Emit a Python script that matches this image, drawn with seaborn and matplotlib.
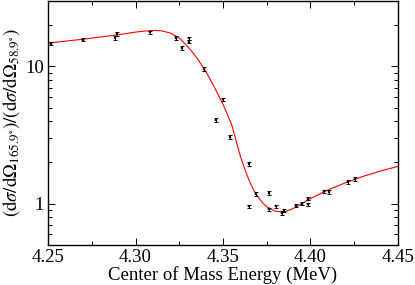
import numpy as np
import pandas as pd
import matplotlib
matplotlib.use("Agg")
import matplotlib.pyplot as plt
import seaborn as sns
from matplotlib.ticker import LogLocator, NullFormatter, FixedLocator, MultipleLocator

# Measured data points
energy = [4.2517, 4.2702, 4.2883, 4.2896, 4.3083, 4.3231, 4.3268, 4.3304, 4.3304,
          4.3390, 4.3458, 4.3502, 4.3540, 4.3650, 4.3650, 4.3689, 4.3765, 4.3765,
          4.3801, 4.3837, 4.3849, 4.3918, 4.3954, 4.3983, 4.3987, 4.4076, 4.4103,
          4.4216, 4.4253]
ratio = [14.7, 15.7, 16.1, 17.2, 17.7, 16.2, 13.6, 16.0, 15.2,
         9.56, 4.06, 5.76, 3.06, 1.95, 0.956, 1.18, 1.20, 0.91,
         0.956, 0.855, 0.89, 0.967, 1.0, 0.99, 1.09, 1.23, 1.22,
         1.44, 1.52]
rel_err = [0.03] * len(ratio)

# Fit curve
fit_energy = [4.25, 4.26, 4.27, 4.28, 4.29, 4.295, 4.30, 4.305, 4.31, 4.315,
              4.32, 4.325, 4.33, 4.335, 4.34, 4.345, 4.35, 4.355, 4.36,
              4.3625, 4.365, 4.3675, 4.37, 4.3725, 4.375, 4.38, 4.385,
              4.39, 4.395, 4.40, 4.41, 4.42, 4.43, 4.44, 4.45]
fit_ratio = [14.8, 15.3, 15.8, 16.4, 17.0, 17.4, 17.8, 18.1, 18.3, 18.2,
             17.5, 16.1, 13.9, 11.6, 9.3, 7.1, 5.3, 3.75, 2.2,
             1.78, 1.47, 1.26, 1.12, 1.02, 0.95, 0.88, 0.87,
             0.92, 1.00, 1.09, 1.26, 1.42, 1.58, 1.73, 1.87]

x_ticks = [4.25, 4.30, 4.35, 4.40, 4.45]
x_ticklabels = ["4.25", "4.30", "4.35", "4.40", "4.45"]

sns.set_theme(style="ticks")
plt.rcParams["font.family"] = ["Liberation Serif", "DejaVu Serif"]
plt.rcParams["mathtext.fontset"] = "stix"
plt.rcParams["text.color"] = "black"
plt.rcParams["axes.labelcolor"] = "black"

fig = plt.figure(figsize=(4.15, 2.85), dpi=100)
ax = fig.add_axes([0.1157, 0.1404, 0.959 - 0.1157, 0.9965 - 0.1404])

df_fit = pd.DataFrame({"E": fit_energy, "R": fit_ratio})
sns.lineplot(data=df_fit, x="E", y="R", ax=ax, color="#ff0000", linewidth=0.8)

df_pts = pd.DataFrame({"E": energy, "R": ratio})
yerr = [r * e for r, e in zip(ratio, rel_err)]
ax.errorbar(energy, ratio, yerr=yerr, fmt="none", ecolor="black",
            elinewidth=0.7, capsize=1.1, capthick=0.7, zorder=3)
sns.scatterplot(data=df_pts, x="E", y="R", ax=ax, marker="s", s=4,
                color="black", edgecolor="black", linewidth=0.2, zorder=4)

ax.set_yscale("log")
ax.set_xlim(4.25, 4.45)
ax.set_ylim(0.5, 30)
ax.set_xticks(x_ticks)
ax.set_xticklabels(x_ticklabels)
ax.xaxis.set_minor_locator(MultipleLocator(0.025))
ax.yaxis.set_major_locator(FixedLocator([1, 10]))
ax.set_yticklabels(["1", "10"])
ax.yaxis.set_minor_locator(LogLocator(base=10, subs=np.arange(2, 10)))
ax.yaxis.set_minor_formatter(NullFormatter())

ax.tick_params(which="both", direction="in", top=True, right=True,
               labelsize=13.5, colors="black", pad=3)
ax.tick_params(which="major", length=5, width=0.7)
ax.tick_params(which="minor", length=3, width=0.7)
for s in ax.spines.values():
    s.set_linewidth(1.0)
    s.set_color("black")

ax.set_xlabel("Center of Mass Energy (MeV)", fontsize=13.5, labelpad=0, color="black")
ax.set_ylabel(r"$(\mathrm{d}\sigma/\mathrm{d}\Omega_{165.9^{\circ}})/(\mathrm{d}\sigma/\mathrm{d}\Omega_{58.9^{\circ}})$",
              fontsize=13.5, labelpad=2, color="black")

fig.savefig("out.png", dpi=100)
